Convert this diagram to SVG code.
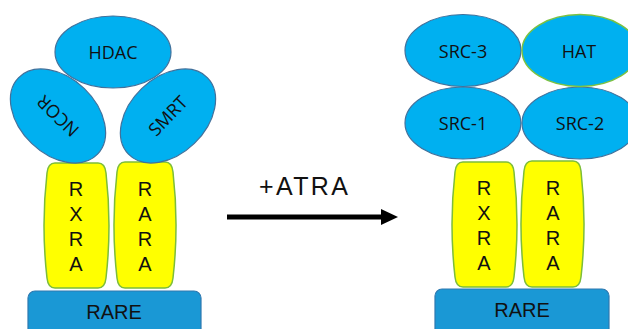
<svg xmlns="http://www.w3.org/2000/svg" width="628" height="329" viewBox="0 0 628 329">
<style>
.cof{fill:#00b0f0;stroke:#41719c;stroke-width:1.2}
.hat{fill:#00b0f0;stroke:#7cc142;stroke-width:1.5}
.rec{fill:#ffff00;stroke:#7cbd3a;stroke-width:1.5}
.dna{fill:#1a98d5;stroke:#2e78b0;stroke-width:1.2}
.lbl{font-family:"Open Sans","Liberation Sans",sans-serif;font-size:18px;fill:#111;text-anchor:middle}
.let{font-family:"Liberation Sans",Arial,sans-serif;font-size:20px;fill:#111;text-anchor:middle}
.rare{font-family:"Liberation Sans",Arial,sans-serif;font-size:20px;fill:#111;text-anchor:middle}
</style>
<defs>
<marker id="ah" markerWidth="4" markerHeight="4" refX="0" refY="2" orient="auto" markerUnits="strokeWidth">
<path d="M0,0.4 L3.4,2 L0,3.6 Z" fill="#000"/>
</marker>
</defs>

<g id="left">
<g id="rare-left"><rect class="dna" x="28" y="291" width="173" height="50" rx="7"/><text class="rare" x="114" y="319">RARE</text></g>
<g id="rxra-left"><path class="rec" d="M55,163 H98 Q105,163 106,173 C110,208 110,243 106,278 Q105,288 98,288 H55 Q48,288 47,278 C43,243 43,208 47,173 Q48,163 55,163 Z"/>
<text class="let" x="76" y="196">R</text><text class="let" x="76" y="221">X</text><text class="let" x="76" y="246">R</text><text class="let" x="76" y="271">A</text></g>
<g id="rara-left"><path class="rec" d="M125,162 H165 Q172,162 173,172 C177,207 177,243 173,278 Q172,288 165,288 H125 Q118,288 117,278 C113,243 113,207 117,172 Q118,162 125,162 Z"/>
<text class="let" x="145" y="196">R</text><text class="let" x="145" y="221">A</text><text class="let" x="145" y="246">R</text><text class="let" x="145" y="271">A</text></g>
<g id="ncor"><ellipse class="cof" cx="58" cy="116" rx="55" ry="38" transform="rotate(44 58 116)"/><text class="lbl" x="58" y="116" dy="0.35em" transform="rotate(224 58 116)">NCOR</text></g>
<g id="smrt"><ellipse class="cof" cx="168" cy="116" rx="55" ry="38" transform="rotate(-44 168 116)"/><text class="lbl" x="168" y="116" dy="0.35em" transform="rotate(-46 168 116)">SMRT</text></g>
<g id="hdac"><ellipse class="cof" cx="113" cy="52" rx="58" ry="36"/><text class="lbl" x="113" y="59">HDAC</text></g>
</g>

<g id="connectors">
<line x1="227" y1="217" x2="381" y2="217" stroke="#000" stroke-width="5" marker-end="url(#ah)"/>
<text x="259" y="195" font-family="Liberation Sans, Arial, sans-serif" font-size="25" fill="#111" textLength="89">+ATRA</text>
</g>

<g id="right">
<g id="rare-right"><rect class="dna" x="435" y="289" width="174" height="52" rx="7"/><text class="rare" x="522" y="317">RARE</text></g>
<g id="rxra-right"><path class="rec" d="M463,162 H506 Q513,162 514,172 C518,207 518,242 514,277 Q513,287 506,287 H463 Q456,287 455,277 C451,242 451,207 455,172 Q456,162 463,162 Z"/>
<text class="let" x="484" y="195">R</text><text class="let" x="484" y="220">X</text><text class="let" x="484" y="245">R</text><text class="let" x="484" y="270">A</text></g>
<g id="rara-right"><path class="rec" d="M532,161 H573 Q580,161 581,171 C585,206 585,242 581,277 Q580,287 573,287 H532 Q525,287 524,277 C520,242 520,206 524,171 Q525,161 532,161 Z"/>
<text class="let" x="553" y="195">R</text><text class="let" x="553" y="220">A</text><text class="let" x="553" y="245">R</text><text class="let" x="553" y="270">A</text></g>
<g id="src1"><ellipse class="cof" cx="463" cy="123" rx="58" ry="36"/><text class="lbl" x="463" y="130">SRC-1</text></g>
<g id="src2"><ellipse class="cof" cx="580" cy="123" rx="58" ry="36"/><text class="lbl" x="580" y="130">SRC-2</text></g>
<g id="src3"><ellipse class="cof" cx="463" cy="50.5" rx="58" ry="36"/><text class="lbl" x="463" y="58">SRC-3</text></g>
<g id="hat"><ellipse class="hat" cx="580" cy="50.5" rx="58" ry="36"/><text class="lbl" x="579" y="58">HAT</text></g>
</g>
</svg>
